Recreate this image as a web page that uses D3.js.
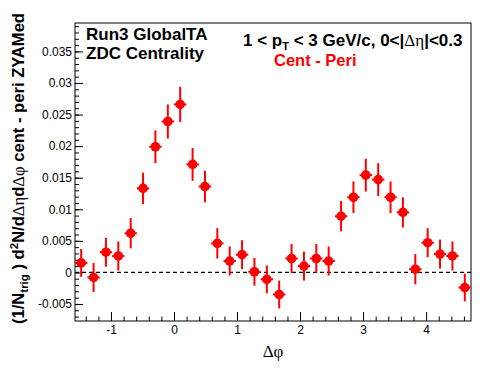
<!DOCTYPE html>
<html>
<head>
<meta charset="utf-8">
<script src="https://cdn.jsdelivr.net/npm/d3@7"></script>
<style>
  body { margin: 0; background: #fff; }
  svg { display: block; }
  .axis text { font-family: "Liberation Sans", Arial, sans-serif; font-size: 12px; fill: #000; }
  .axis line { stroke: #000; stroke-width: 1; }
</style>
</head>
<body>
<div id="chart"></div>
<script>

// bin centres in delta phi (32 bins over -pi/2 .. 3pi/2)
var dphi = [-1.473, -1.276, -1.080, -0.884, -0.687, -0.491, -0.295, -0.098,
            0.098, 0.295, 0.491, 0.687, 0.884, 1.080, 1.276, 1.473,
            1.669, 1.865, 2.062, 2.258, 2.454, 2.651, 2.847, 3.043,
            3.240, 3.436, 3.632, 3.829, 4.025, 4.221, 4.418, 4.614];

// cent - peri, ZYAM subtracted
var yieldVals = [0.0015, -0.0008, 0.0032, 0.0026, 0.0062, 0.0133, 0.0199, 0.0239,
                 0.0266, 0.0171, 0.0136, 0.0046, 0.0018, 0.0028, 0.0001, -0.0011,
                 -0.0035, 0.0022, 0.0010, 0.0022, 0.0018, 0.0089, 0.0119, 0.0154,
                 0.0147, 0.0119, 0.0095, 0.0005, 0.0047, 0.0029, 0.0026, -0.0024];

var yieldErr = [0.0022, 0.0023, 0.0023, 0.0023, 0.0024, 0.0025, 0.0026, 0.0027,
                0.0028, 0.0026, 0.0025, 0.0024, 0.0023, 0.0023, 0.0022, 0.0022,
                0.0022, 0.0023, 0.0023, 0.0023, 0.0023, 0.0024, 0.0025, 0.0026,
                0.0026, 0.0025, 0.0024, 0.0024, 0.0023, 0.0023, 0.0023, 0.0022];

var xTicks = [-1, 0, 1, 2, 3, 4];
var yTicks = [-0.005, 0, 0.005, 0.01, 0.015, 0.02, 0.025, 0.03, 0.035];
var yTickLabels = ["-0.005", "0", "0.005", "0.01", "0.015", "0.02", "0.025", "0.03", "0.035"];

var binWidth = 2 * Math.PI / 32;

var W = 496, H = 374,
    margin = {top: 23, right: 25, bottom: 53, left: 75},
    width = W - margin.left - margin.right,
    height = H - margin.top - margin.bottom;

var svg = d3.select("#chart").append("svg")
    .attr("width", W)
    .attr("height", H);

svg.append("rect").attr("width", W).attr("height", H).attr("fill", "#fff");

var g = svg.append("g")
    .attr("transform", "translate(" + margin.left + "," + margin.top + ")");

var x = d3.scaleLinear().domain([-Math.PI / 2, 3 * Math.PI / 2]).range([0, width]);
var y = d3.scaleLinear().domain([-0.0077, 0.0395]).range([height, 0]);

// minor ticks first
g.append("g")
    .attr("class", "axis")
    .attr("transform", "translate(0," + height + ")")
    .call(d3.axisBottom(x)
        .tickValues(x.ticks(30).filter(function(d) { return Math.abs(d - Math.round(d)) > 1e-6; }))
        .tickSize(-4.5)
        .tickFormat(""));

g.append("g")
    .attr("class", "axis")
    .call(d3.axisLeft(y)
        .tickValues(y.ticks(50))
        .tickSize(-4)
        .tickFormat(""));

// major ticks with labels
g.append("g")
    .attr("class", "axis")
    .attr("transform", "translate(0," + height + ")")
    .call(d3.axisBottom(x)
        .tickValues(xTicks)
        .tickSize(-9)
        .tickPadding(4)
        .tickFormat(function(d) { return d < 0 ? "-" + Math.abs(d) : String(d); }));

g.append("g")
    .attr("class", "axis")
    .call(d3.axisLeft(y)
        .tickValues(yTicks)
        .tickSize(-8)
        .tickPadding(3)
        .tickFormat(function(d, i) { return yTickLabels[i]; }));

g.selectAll(".axis .domain").remove();

// dashed zero line
g.append("line")
    .attr("x1", 0).attr("x2", width)
    .attr("y1", y(0)).attr("y2", y(0))
    .attr("stroke", "#000")
    .attr("stroke-width", 1.2)
    .attr("stroke-dasharray", "4,3");

// frame
g.append("rect")
    .attr("width", width)
    .attr("height", height)
    .attr("fill", "none")
    .attr("stroke", "#000")
    .attr("stroke-width", 1);

var data = dphi.map(function(d, i) { return {x: d, y: yieldVals[i], e: yieldErr[i]}; });

var pts = g.append("g").selectAll("g")
    .data(data)
    .enter().append("g");

pts.append("line")
    .attr("x1", function(d) { return x(d.x); })
    .attr("x2", function(d) { return x(d.x); })
    .attr("y1", function(d) { return y(d.y - d.e); })
    .attr("y2", function(d) { return y(d.y + d.e); })
    .attr("stroke", "#ff0000")
    .attr("stroke-width", 2);

pts.append("line")
    .attr("x1", function(d) { return x(d.x - binWidth / 2); })
    .attr("x2", function(d) { return x(d.x + binWidth / 2); })
    .attr("y1", function(d) { return y(d.y); })
    .attr("y2", function(d) { return y(d.y); })
    .attr("stroke", "#ff0000")
    .attr("stroke-width", 2);

pts.append("circle")
    .attr("cx", function(d) { return x(d.x); })
    .attr("cy", function(d) { return y(d.y); })
    .attr("r", 4.8)
    .attr("fill", "#ff0000");

// labels
var sans = "'Liberation Sans', Arial, sans-serif",
    serif = "'Liberation Serif', 'Times New Roman', serif";

svg.append("text")
    .attr("x", 86).attr("y", 40)
    .attr("font-family", sans).attr("font-weight", "bold").attr("font-size", 17)
    .text("Run3 GlobalTA");

svg.append("text")
    .attr("x", 86).attr("y", 59)
    .attr("font-family", sans).attr("font-weight", "bold").attr("font-size", 17)
    .text("ZDC Centrality");

var t1 = svg.append("text")
    .attr("x", 243).attr("y", 46)
    .attr("font-family", sans).attr("font-weight", "bold").attr("font-size", 17);
t1.append("tspan").text("1 < p");
t1.append("tspan").attr("font-size", 11).attr("dy", 4).text("T");
t1.append("tspan").attr("dy", -4).text(" < 3 GeV/c, 0<|");
t1.append("tspan").attr("font-family", serif).attr("font-weight", "normal").text("\u0394\u03b7");
t1.append("tspan").text("|<0.3");

svg.append("text")
    .attr("x", 274).attr("y", 66)
    .attr("font-family", sans).attr("font-weight", "bold").attr("font-size", 16.5)
    .attr("fill", "#ff0000")
    .text("Cent - Peri");

svg.append("text")
    .attr("x", margin.left + width / 2).attr("y", 357)
    .attr("text-anchor", "middle")
    .attr("font-family", serif).attr("font-size", 17)
    .text("\u0394\u03c6");

var yl = svg.append("text")
    .attr("transform", "translate(24,13) rotate(-90)")
    .attr("text-anchor", "end")
    .attr("font-family", sans).attr("font-weight", "bold").attr("font-size", 16.6);
yl.append("tspan").text("(1/N");
yl.append("tspan").attr("font-size", 11.5).attr("dy", 4).text("trig");
yl.append("tspan").attr("dy", -4).text(" ) d");
yl.append("tspan").attr("font-size", 11.5).attr("dy", -6).text("2");
yl.append("tspan").attr("dy", 6).text("N/d");
yl.append("tspan").attr("font-family", serif).attr("font-weight", "normal").text("\u0394\u03b7");
yl.append("tspan").text("d");
yl.append("tspan").attr("font-family", serif).attr("font-weight", "normal").text("\u0394\u03c6");
yl.append("tspan").text(" cent - peri ZYAMed");

</script>
</body>
</html>
